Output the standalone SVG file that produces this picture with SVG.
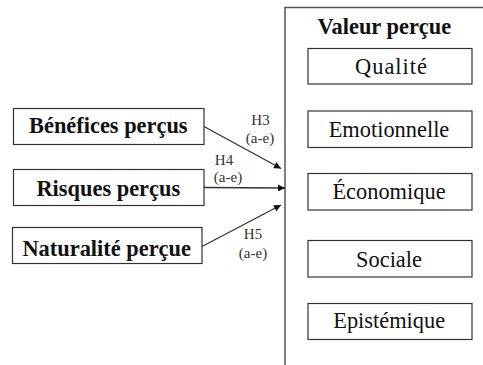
<svg xmlns="http://www.w3.org/2000/svg" width="483" height="365" viewBox="0 0 483 365">
<defs>
<style>
.box{fill:#fff;stroke:#333;stroke-width:1.2}
.b{font-weight:bold;font-size:22.4px;fill:#111;text-anchor:middle}
.r{font-size:22.4px;fill:#111;text-anchor:middle}
.s{font-size:15px;fill:#333;text-anchor:middle}
.c{stroke:#333;stroke-width:1.3;fill:none}
</style>
<marker id="ah" viewBox="0 0 10 10" refX="10" refY="5" markerWidth="8" markerHeight="7" markerUnits="userSpaceOnUse" orient="auto"><path d="M0,0L10,5L0,10z" fill="#111"/></marker>
</defs>
<rect width="483" height="365" fill="#fff"/>
<g font-family="Liberation Serif, Times New Roman, serif">
<g id="valeur">
<path d="M285,365V7.5H483" fill="none" stroke="#555" stroke-width="1.5"/>
<text class="b" x="384.3" y="34">Valeur perçue</text>
</g>
<g id="qualite"><rect class="box" x="308" y="48.5" width="164" height="35.5"/><text class="r" x="391" y="73.5" textLength="72" lengthAdjust="spacing">Qualité</text></g>
<g id="emotionnelle"><rect class="box" x="308" y="111" width="164" height="36.5"/><text class="r" x="389" y="137.3">Emotionnelle</text></g>
<g id="economique"><rect class="box" x="308" y="173.5" width="164" height="36.5"/><text class="r" x="389" y="199">Économique</text></g>
<g id="sociale"><rect class="box" x="308" y="240.5" width="164" height="36.5"/><text class="r" x="389" y="266.7">Sociale</text></g>
<g id="epistemique"><rect class="box" x="308" y="303.5" width="164" height="36"/><text class="r" x="389.2" y="328.3">Epistémique</text></g>
<g id="benefices"><rect class="box" x="13.5" y="108.5" width="190.5" height="36"/><text class="b" x="108.3" y="133">Bénéfices perçus</text></g>
<g id="risques"><rect class="box" x="13.5" y="169.5" width="190.5" height="36"/><text class="b" x="108.3" y="195.7">Risques perçus</text></g>
<g id="naturalite"><rect class="box" x="12.5" y="227.5" width="189.5" height="36"/><text class="b" x="106.7" y="255.7">Naturalité perçue</text></g>
<g id="connectors">
<line class="c" x1="204" y1="126.5" x2="281" y2="168.5" marker-end="url(#ah)"/>
<line class="c" x1="204" y1="187.5" x2="285" y2="188" marker-end="url(#ah)"/>
<line class="c" x1="202" y1="246.5" x2="281" y2="205" marker-end="url(#ah)"/>
<text class="s" x="260.5" y="125">H3</text>
<text class="s" x="260" y="143">(a-e)</text>
<text class="s" x="224" y="165">H4</text>
<text class="s" x="228" y="182">(a-e)</text>
<text class="s" x="253" y="239">H5</text>
<text class="s" x="253" y="258">(a-e)</text>
</g>
</g>
</svg>
